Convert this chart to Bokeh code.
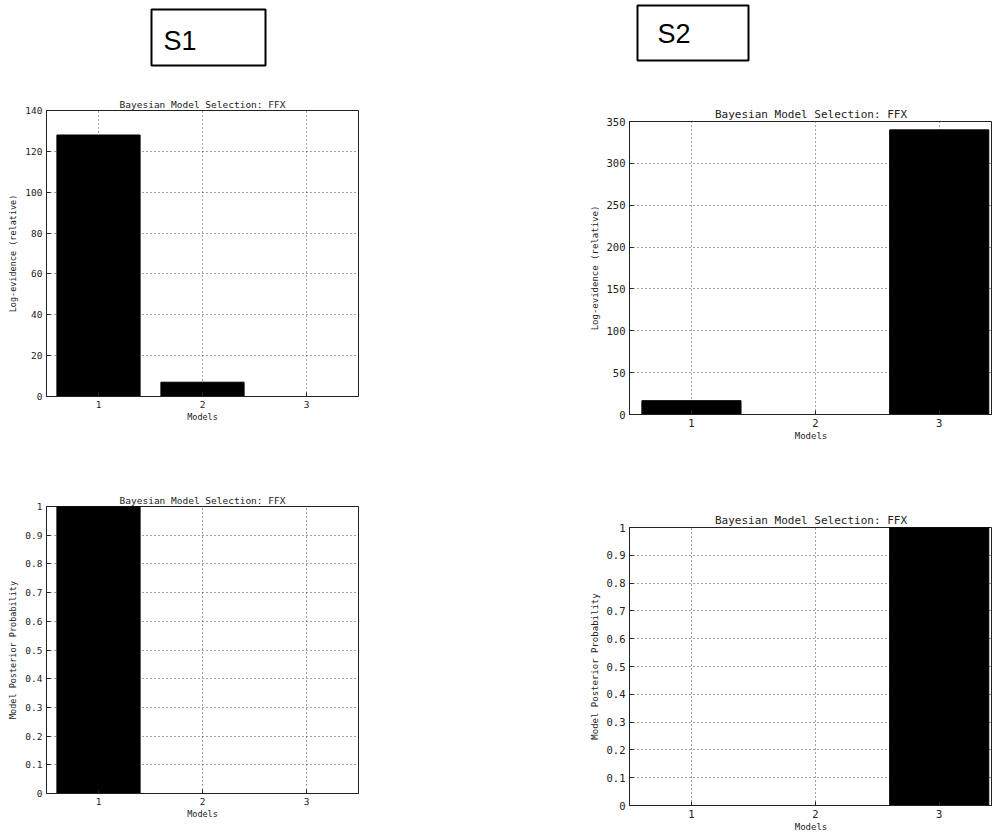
from bokeh.plotting import figure
from bokeh.layouts import column, row
from bokeh.models import Range1d, FixedTicker
from bokeh.core.properties import value
from bokeh.embed import file_html
from bokeh.resources import INLINE

# ---------------- data ----------------
models = [1, 2, 3]
model_labels = ["1", "2", "3"]

s1_log_evidence = [128, 7, 0]
s2_log_evidence = [16.5, 0, 340]

s1_posterior = [1.0, 0.0, 0.0]
s2_posterior = [0.0, 0.0, 1.0]

s1_log_ticks = [0, 20, 40, 60, 80, 100, 120, 140]
s2_log_ticks = [0, 50, 100, 150, 200, 250, 300, 350]

prob_ticks = [0, 0.1, 0.2, 0.3, 0.4, 0.5, 0.6, 0.7, 0.8, 0.9, 1]
prob_tick_labels = ["0", "0.1", "0.2", "0.3", "0.4", "0.5", "0.6", "0.7", "0.8", "0.9", "1"]

subject_names = ["S1", "S2"]
panel_title = "Bayesian Model Selection: FFX"
log_label = "Log-evidence (relative)"
prob_label = "Model Posterior Probability"
x_label = "Models"

FONT = "DejaVu Sans Mono"


def make_panel(width, height, mbl, mbr, mbt, mbb, x_end, y_end, yticks, ylabels,
               vals, ylab, title_fs, tick_fs, lab_fs):
    p = figure(width=width, height=height, output_backend="svg", toolbar_location=None,
               x_range=Range1d(0.5, x_end), y_range=Range1d(0, y_end),
               min_border_left=mbl, min_border_right=mbr,
               min_border_top=mbt, min_border_bottom=mbb,
               title=panel_title)
    p.vbar(x=models, top=vals, width=0.8, fill_color="black", line_color="black",
           line_width=1)
    p.background_fill_color = "white"
    p.border_fill_color = "white"
    p.outline_line_color = "#222222"
    p.outline_line_width = 1

    p.title.align = "center"
    p.title.text_font = FONT
    p.title.text_font_size = title_fs
    p.title.text_font_style = "normal"
    p.title.text_color = "#222222"
    p.title.standoff = 2

    p.xaxis.ticker = FixedTicker(ticks=models)
    p.xaxis.major_label_overrides = {m: l for m, l in zip(models, model_labels)}
    p.yaxis.ticker = FixedTicker(ticks=yticks)
    if ylabels is not None:
        p.yaxis.major_label_overrides = {t: l for t, l in zip(yticks, ylabels)}

    for ax in (p.xaxis, p.yaxis):
        ax.major_tick_in = 4
        ax.major_tick_out = 0
        ax.minor_tick_line_color = None
        ax.axis_line_color = "#222222"
        ax.major_tick_line_color = "#222222"
        ax.major_label_text_font = FONT
        ax.major_label_text_font_size = tick_fs
        ax.major_label_text_color = "#222222"
        ax.axis_label_text_font = FONT
        ax.axis_label_text_font_size = lab_fs
        ax.axis_label_text_font_style = "normal"
        ax.axis_label_text_color = "#222222"
    p.xaxis.axis_label = x_label
    p.yaxis.axis_label = ylab
    p.xaxis.major_label_standoff = 4
    p.xaxis.axis_label_standoff = 1
    p.yaxis.major_label_standoff = 4
    p.yaxis.axis_label_standoff = 4

    p.grid.grid_line_color = "#444444"
    p.grid.grid_line_dash = "1 3"
    p.grid.grid_line_width = 1
    return p


# header with the subject boxes
header = figure(width=992, height=80, output_backend="svg", toolbar_location=None,
                x_range=Range1d(0, 992), y_range=Range1d(80, 0),
                x_axis_location=None, y_axis_location=None,
                min_border=0, outline_line_color=None)
header.grid.visible = False
box_left = [151, 637]
box_right = [265, 748]
box_top = [9, 5]
box_bottom = [65, 60]
text_x = [163, 657]
text_y = [40, 33]
header.quad(left=box_left, right=box_right, top=box_top, bottom=box_bottom,
            fill_color=None, line_color="black", line_width=2)
header.text(x=text_x, y=text_y, text=subject_names, text_align="left",
            text_baseline="middle", text_font=value("Liberation Sans"),
            text_font_size="27px", text_color="black")

tl = make_panel(480, 370, 46, 122, 30, 54, 3.5, 140, s1_log_ticks, None,
                s1_log_evidence, log_label, "9.5px", "9.5px", "8.5px")
bl = make_panel(480, 384, 46, 122, 56, 41, 3.5, 1, prob_ticks, prob_tick_labels,
                s1_posterior, prob_label, "9.5px", "9.5px", "8.5px")
tr = make_panel(512, 370, 149, 0, 41, 36, 3.43, 350, s2_log_ticks, None,
                s2_log_evidence, log_label, "11px", "10.5px", "9px")
br = make_panel(512, 384, 149, 0, 77, 26, 3.43, 1, prob_ticks, prob_tick_labels,
                s2_posterior, prob_label, "11px", "10.5px", "9px")

layout = column(header, row(column(tl, bl), column(tr, br)))

open("out.html", "w").write(file_html(layout, INLINE))
